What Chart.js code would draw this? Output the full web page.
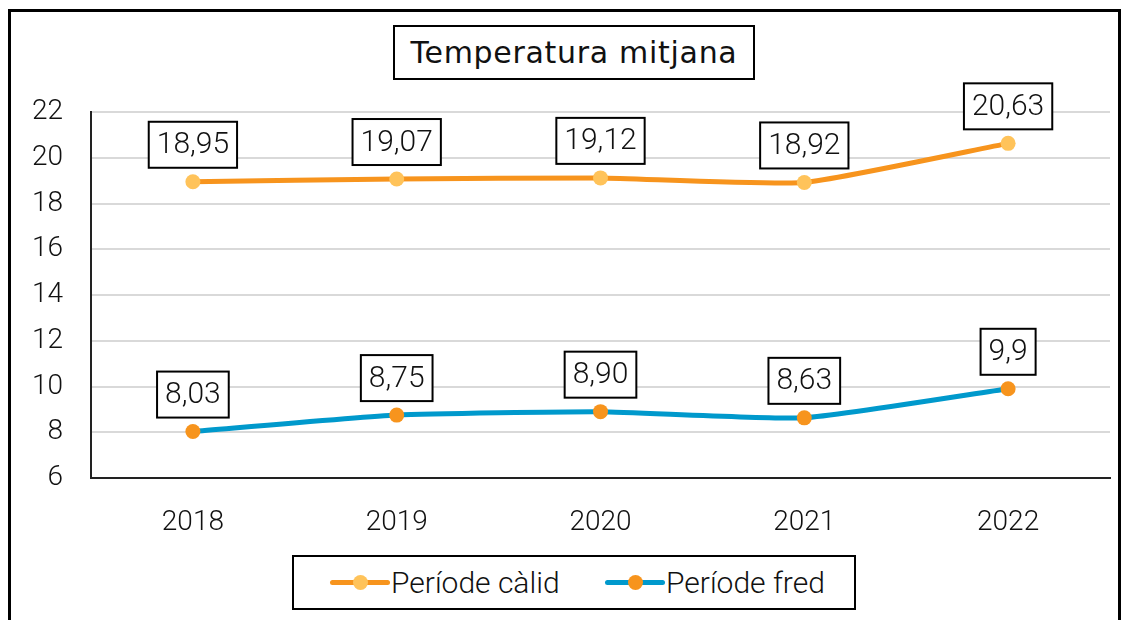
<!DOCTYPE html>
<html><head><meta charset="utf-8">
<script src="https://cdn.jsdelivr.net/npm/chart.js@4.4.1/dist/chart.umd.min.js"></script>
<style>
html,body{margin:0;padding:0;background:#fff;}
#wrap{position:relative;width:1124px;height:620px;overflow:hidden;font-family:Roboto,"Noto Sans",sans-serif;font-weight:300;color:#111;}
#frame{position:absolute;left:8px;top:9px;width:1107px;height:700px;border:3px solid #000;}
#title{position:absolute;left:393px;top:25px;width:358px;height:51px;border:2px solid #000;font-family:"DejaVu Sans",sans-serif;font-weight:400;font-size:30px;letter-spacing:0.7px;line-height:51px;text-align:center;background:#fff;}
#legend{position:absolute;left:292px;top:555px;width:560px;height:51px;border:2px solid #000;background:#fff;font-size:30px;}
.li{position:absolute;top:0;height:51px;line-height:51px;}
.sw{position:absolute;top:23px;width:60px;height:5px;border-radius:3px;}
.dot{position:absolute;top:-5px;left:23px;width:15px;height:15px;border-radius:50%;}
.lt{position:absolute;left:61px;top:0;white-space:nowrap;}
canvas{position:absolute;left:0;top:0;}
</style></head>
<body><div id="wrap">
<canvas id="c" width="1124" height="620"></canvas>
<div id="frame"></div>
<div id="title">Temperatura mitjana</div>
<div id="legend">
 <div class="li" style="left:36px"><div class="sw" style="background:#F7941D"><div class="dot" style="background:#FFC35A"></div></div><div class="lt">Període càlid</div></div>
 <div class="li" style="left:311px"><div class="sw" style="background:#0099CC"><div class="dot" style="background:#F7941D"></div></div><div class="lt">Període fred</div></div>
</div>
</div>
<script>
const categories = ["2018","2019","2020","2021","2022"];
const calidValues = [18.95, 19.07, 19.12, 18.92, 20.63];
const fredValues = [8.03, 8.75, 8.90, 8.63, 9.9];
const calidLabels = ["18,95","19,07","19,12","18,92","20,63"];
const fredLabels = ["8,03","8,75","8,90","8,63","9,9"];
const seriesNames = ["Període càlid","Període fred"];
const FONT = 'Roboto, "Noto Sans", sans-serif';

const boxLabels = {
  id:'boxLabels',
  afterDatasetsDraw(chart){
    const ctx = chart.ctx;
    const sets = [calidLabels, fredLabels];
    ctx.save();
    ctx.font = '300 30px ' + FONT;
    ctx.textAlign = 'center';
    ctx.textBaseline = 'middle';
    chart.data.datasets.forEach((ds, di) => {
      const meta = chart.getDatasetMeta(di);
      meta.data.forEach((pt, i) => {
        const txt = sets[di][i];
        const w = ctx.measureText(txt).width + 16;
        const h = 46;
        const cx = pt.x, cy = pt.y - 14 - h/2;
        ctx.fillStyle = '#fff';
        ctx.fillRect(cx - w/2, cy - h/2, w, h);
        ctx.lineWidth = 2;
        ctx.strokeStyle = '#000';
        ctx.strokeRect(cx - w/2, cy - h/2, w, h);
        ctx.fillStyle = '#111';
        ctx.fillText(txt, cx, cy + 1);
      });
    });
    ctx.restore();
  }
};

new Chart(document.getElementById('c'), {
  type:'line',
  data:{
    labels: categories,
    datasets:[
      {label:seriesNames[0], data:calidValues, borderColor:'#F7941D', backgroundColor:'#FFC35A', pointBackgroundColor:'#FFC35A', pointBorderWidth:0, pointRadius:7.5, borderWidth:5, tension:0.15},
      {label:seriesNames[1], data:fredValues, borderColor:'#0099CC', backgroundColor:'#F7941D', pointBackgroundColor:'#F7941D', pointBorderWidth:0, pointRadius:7.5, borderWidth:5, tension:0.15}
    ]
  },
  options:{
    responsive:false, animation:false,
    layout:{padding:{left:0,right:14,top:112,bottom:82}},
    plugins:{legend:{display:false}, title:{display:false}, tooltip:{enabled:false}},
    scales:{
      x:{
        offset:true,
        grid:{display:false, drawTicks:false},
        border:{display:true,color:'#222',width:2},
        ticks:{padding:28, color:'#111', font:{family:FONT, size:28, weight:300}},
        afterFit(s){ s.height = 60; }
      },
      y:{
        min:6, max:22,
        ticks:{stepSize:2, padding:28, color:'#111', font:{family:FONT, size:28, weight:300}},
        grid:{color:'#d9d9d9', lineWidth:2, drawTicks:false},
        border:{display:true,color:'#222',width:2},
        afterFit(s){ s.width = 91; }
      }
    }
  },
  plugins:[boxLabels]
});
</script>
</body></html>
